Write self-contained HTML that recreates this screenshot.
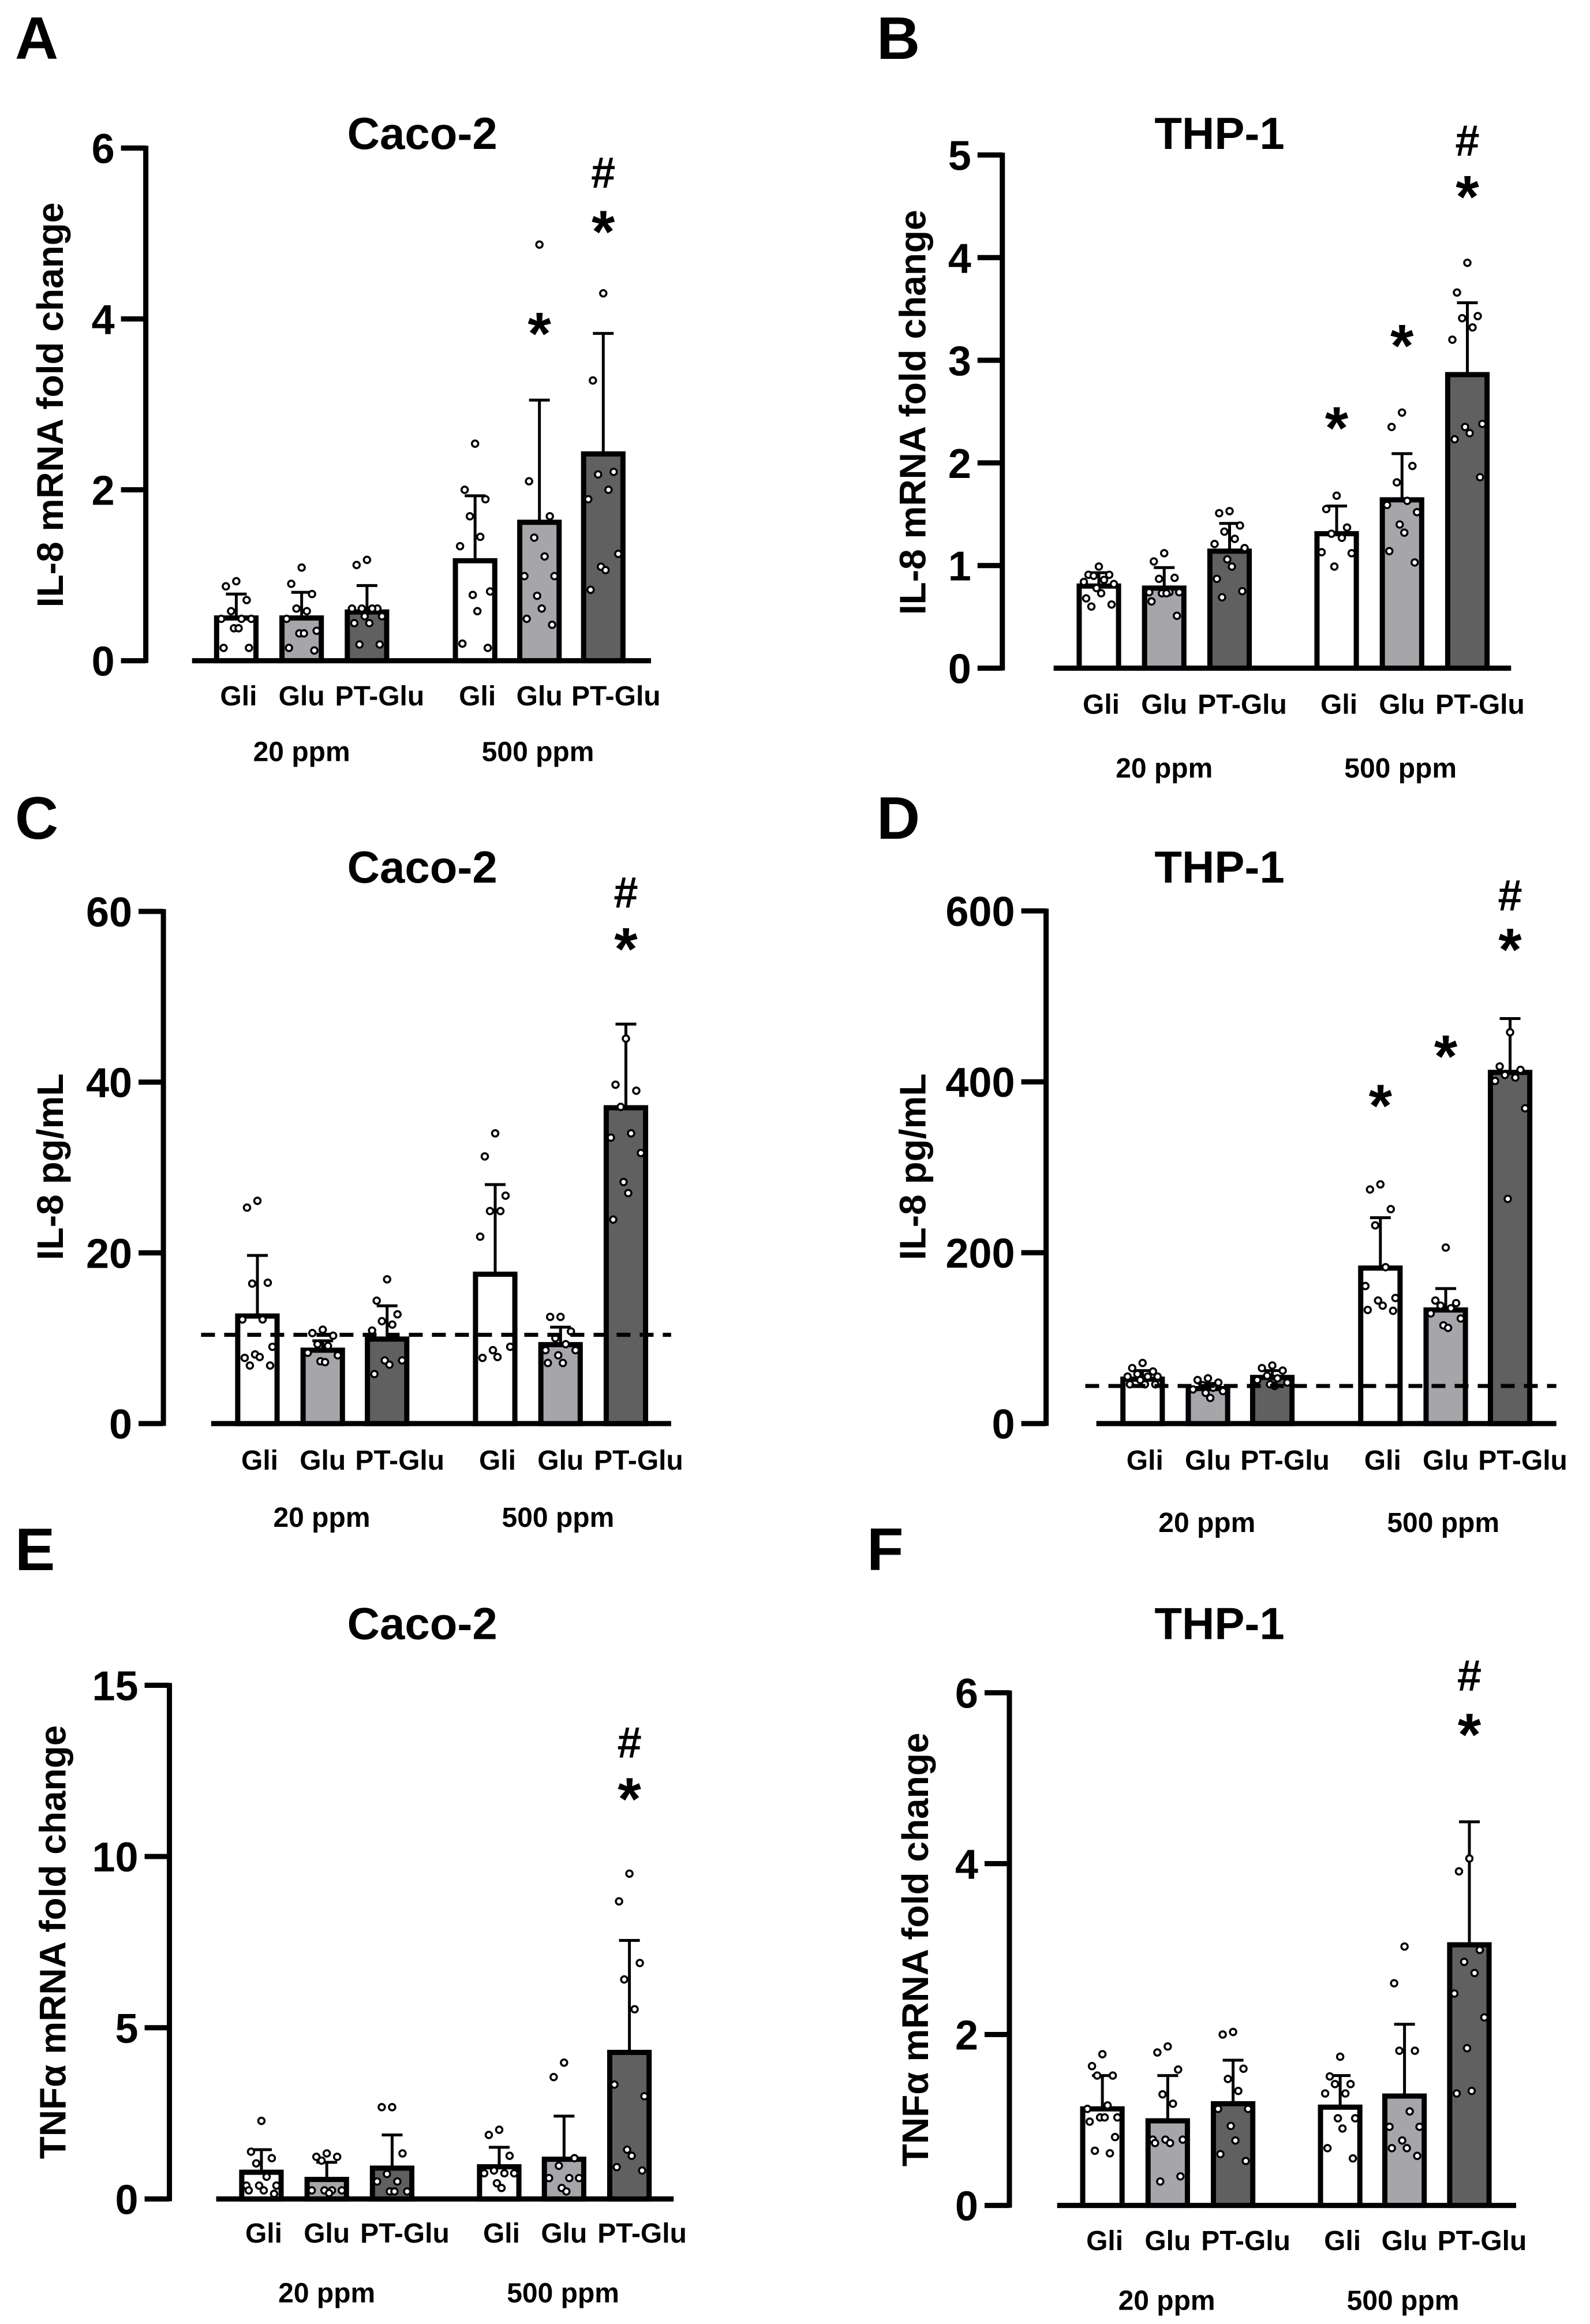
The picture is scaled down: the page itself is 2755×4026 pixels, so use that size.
<!DOCTYPE html>
<html><head><meta charset="utf-8"><style>
html,body{margin:0;padding:0;background:#fff;width:2755px;height:4026px;overflow:hidden}
svg{display:block}
text{font-family:"Liberation Sans",Arial,Helvetica,sans-serif;font-weight:bold}
</style></head><body>
<svg id="fig" width="2755" height="4026" viewBox="0 0 2755 4026" xmlns="http://www.w3.org/2000/svg" font-family="Liberation Sans, Arial, sans-serif" font-weight="bold"></svg>
<script>
// ---- data ----
const categories = ["Gli","Glu","PT-Glu","Gli","Glu","PT-Glu"];
const groupLabels = ["20 ppm","500 ppm"];
// Panel A: Caco-2 IL-8 mRNA
const meanA = [0.50,0.50,0.57,1.17,1.62,2.42];
const sdTopA = [0.78,0.80,0.88,1.93,3.05,3.83];
const ptsA = [[0.93,0.87,0.71,0.58,0.49,0.49,0.49,0.38,0.38,0.15,0.15],[1.09,0.9,0.78,0.61,0.58,0.49,0.35,0.32,0.32,0.15,0.12],[1.18,1.12,0.61,0.61,0.61,0.61,0.52,0.52,0.44,0.44,0.19,0.19],[2.54,2.0,1.89,1.69,1.45,1.34,0.81,0.77,0.58,0.2,0.15],[4.87,2.1,1.69,1.44,1.22,0.99,0.99,0.76,0.61,0.49,0.42],[4.3,3.28,2.21,2.18,2.0,1.89,1.25,1.1,1.06,0.83]];
const ticksA = [0,2,4,6];
// Panel B: THP-1 IL-8 mRNA
const meanB = [0.80,0.78,1.14,1.31,1.64,2.86];
const sdTopB = [0.93,0.98,1.41,1.58,2.09,3.56];
const ptsB = [[0.99,0.91,0.91,0.9,0.86,0.84,0.82,0.78,0.73,0.68,0.62,0.6],[1.12,1.04,0.88,0.87,0.74,0.74,0.74,0.73,0.73,0.65,0.51],[1.53,1.51,1.39,1.33,1.26,1.21,1.17,1.06,0.99,0.87,0.75,0.69],[1.68,1.55,1.37,1.31,1.27,1.13,1.12,0.99],[2.49,2.35,1.97,1.81,1.63,1.59,1.52,1.4,1.32,1.14,1.03],[3.95,3.66,3.43,3.41,3.32,3.2,2.38,2.35,2.29,2.23,1.86]];
const ticksB = [0,1,2,3,4,5];
// Panel C: Caco-2 IL-8 pg/mL
const meanC = [12.6,8.6,9.9,17.5,9.25,37.0];
const sdTopC = [19.7,9.7,13.8,28.0,11.3,46.8];
const ptsC = [[26.1,25.3,16.5,16.4,12.2,12.2,9.0,8.1,7.8,7.7,6.8,6.8],[11.0,10.6,10.3,9.3,9.1,8.3,8.0,7.3,7.2],[16.9,14.4,12.8,12.0,11.6,10.9,7.4,7.4,6.9,5.8],[34.0,31.3,26.7,24.9,24.9,21.9,9.0,8.6,7.8,7.7],[12.5,12.5,10.8,10.0,9.3,8.6,8.6,8.0,7.1,7.1],[45.1,39.7,39.0,37.1,34.0,33.5,31.7,28.3,27.0,23.9]];
const ticksC = [0,20,40,60];
const lodC = 10.4;
// Panel D: THP-1 IL-8 pg/mL
const meanD = [52,41,54,182,133,411];
const sdTopD = [62,47,62,241,158,474];
const ptsD = [[71,65,61,58,55,55,55,51,46,46,46],[53,51,48,45,42,40,38,36,30],[68,65,62,56,53,51,48,46,44],[280,274,251,232,183,161,147,144,138,133,132],[206,144,141,138,135,129,123,115,112],[458,418,414,408,405,401,369,263]];
const ticksD = [0,200,400,600];
const lodD = 44;
// Panel E: Caco-2 TNFa mRNA
const meanE = [0.78,0.57,0.90,0.94,1.16,4.28];
const sdTopE = [1.44,1.07,1.87,1.51,2.42,7.55];
const ptsE = [[2.28,1.38,1.19,1.04,0.65,0.39,0.39,0.39,0.25,0.25,0.15],[1.33,1.23,1.23,1.12,0.25,0.25,0.25,0.25,0.17],[2.68,2.68,1.33,0.73,0.51,0.51,0.22,0.22,0.22],[2.02,1.87,1.26,0.83,0.75,0.75,0.75,0.46,0.32],[3.98,3.56,1.19,0.97,0.61,0.61,0.61,0.32,0.22],[9.5,8.69,6.89,6.41,5.54,3.34,3.0,1.44,1.26,0.93,0.83]];
const ticksE = [0,5,10,15];
// Panel F: THP-1 TNFa mRNA
const meanF = [1.13,0.99,1.19,1.15,1.28,3.05];
const sdTopF = [1.52,1.52,1.70,1.52,2.12,4.49];
const ptsF = [[1.77,1.63,1.52,1.52,1.17,1.13,1.03,1.03,1.03,0.98,0.8,0.64,0.61],[1.86,1.79,1.59,1.3,1.19,0.77,0.77,0.77,0.73,0.73,0.34,0.28],[2.03,2.0,1.6,1.48,1.34,1.13,1.13,0.93,0.76,0.6,0.52],[1.74,1.51,1.42,1.42,1.31,1.31,1.02,1.02,0.9,0.67,0.55],[3.03,2.6,1.81,1.81,1.1,0.92,0.92,0.76,0.67,0.67,0.58],[4.06,3.91,2.99,2.85,2.72,2.48,2.2,1.84,1.34,1.31]];
const ticksF = [0,2,4,6];
// significance marks: [barIndex, symbol, value]
const sigA = [[4,"*",3.9],[5,"*",5.09],[5,"#",5.7]];
const sigB = [[3,"*",2.4],[4,"*",3.2],[5,"*",4.65],[5,"#",5.13]];
const sigC = [[5,"*",56.3],[5,"#",62.1]];
const sigD = [[3,"*",379],[4,"*",437],[5,"*",562],[5,"#",617]];
const sigE = [[5,"*",11.86],[5,"#",13.3]];
const sigF = [[5,"*",5.58],[5,"#",6.19]];

// ---- layout ----
const SX = 1.148, SY = 1.162;
const fills = ["#ffffff","#a6a6aa","#606060","#ffffff","#a6a6aa","#606060"];
const NS = "http://www.w3.org/2000/svg";
const svg = document.getElementById('fig');
const FONT = '"Liberation Sans", Arial, sans-serif';
function mk(tag, attrs, parent){const e=document.createElementNS(NS,tag);for(const k in attrs)e.setAttribute(k,attrs[k]);if(tag==='text'){e.setAttribute('font-family',FONT);e.setAttribute('font-weight','bold');}(parent||svg).appendChild(e);return e;}
const jit = [0,-18,18,-9,9,-26,26,-4,4,-22,22,-13,13];

const panels = [
 {id:"a",letter:"A",lx:26,ly:102,ox:0,oy:0,axisX:290,y0:1330,yTop:298,max:6,ticks:ticksA,base:[382,1295],bars:[470,600,730,945,1073,1200],title:"Caco-2",tx:840,ty:300,ytitle:"IL-8 mRNA fold change",ytx:100,yty:815,catY:1420,ppmY:1532,ppmX:[600,1070],mean:meanA,sd:sdTopA,pts:ptsA,sig:sigA},
 {id:"b",letter:"B",lx:1519,ly:102,ox:1377,oy:0,axisX:413,y0:1345,yTop:312,max:5,ticks:ticksB,base:[515,1425],bars:[605,735,865,1078,1208,1338],title:"THP-1",tx:845,ty:300,ytitle:"IL-8 mRNA fold change",ytx:235,yty:830,catY:1437,ppmY:1565,ppmX:[735,1205],mean:meanB,sd:sdTopB,pts:ptsB,sig:sigB},
 {id:"c",letter:"C",lx:26,ly:1453,ox:0,oy:1350,axisX:325,y0:1297,yTop:266,max:60,ticks:ticksC,base:[420,1335],bars:[512,642,770,985,1115,1245],title:"Caco-2",tx:840,ty:208,ytitle:"IL-8 pg/mL",ytx:100,yty:780,catY:1390,ppmY:1505,ppmX:[640,1110],mean:meanC,sd:sdTopC,pts:ptsC,sig:sigC,lod:lodC,lodX:[400,1335]},
 {id:"d",letter:"D",lx:1519,ly:1453,ox:1377,oy:1350,axisX:500,y0:1297,yTop:265,max:600,ticks:ticksD,base:[600,1515],bars:[692,822,950,1165,1295,1423],title:"THP-1",tx:845,ty:208,ytitle:"IL-8 pg/mL",ytx:235,yty:780,catY:1390,ppmY:1515,ppmX:[820,1290],mean:meanD,sd:sdTopD,pts:ptsD,sig:sigD,lod:lodD,lodX:[578,1515]},
 {id:"e",letter:"E",lx:26,ly:2720,ox:0,oy:2676,axisX:337,y0:1317,yTop:283,max:15,ticks:ticksE,base:[430,1340],bars:[520,650,780,993,1122,1252],title:"Caco-2",tx:840,ty:190,ytitle:"TNF\u03b1 mRNA fold change",ytx:105,yty:800,catY:1405,ppmY:1525,ppmX:[650,1120],mean:meanE,sd:sdTopE,pts:ptsE,sig:sigE},
 {id:"f",letter:"F",lx:1502,ly:2720,ox:1377,oy:2676,axisX:427,y0:1330,yTop:298,max:6,ticks:ticksF,base:[522,1435],bars:[612,742,872,1085,1213,1342],title:"THP-1",tx:845,ty:190,ytitle:"TNF\u03b1 mRNA fold change",ytx:240,yty:815,catY:1420,ppmY:1540,ppmX:[740,1210],mean:meanF,sd:sdTopF,pts:ptsF,sig:sigF}
];

panels.forEach(p=>{
  const X = z=>p.ox+z/SX, Y = z=>p.oy+z/SY;
  const yS = v=>Y(p.y0 - (p.y0-p.yTop)*v/p.max);
  const g = mk('g',{});
  
  
  const L = mk('text',{x:p.lx,y:p.ly,'font-size':104},g); L.textContent=p.letter;
   
  const T = mk('text',{x:X(p.tx),y:Y(p.ty),'font-size':78,'text-anchor':'middle'},g); T.textContent=p.title;
   
  const yt = mk('text',{x:0,y:0,'font-size':64,'text-anchor':'middle',transform:`translate(${X(p.ytx)+22},${Y(p.yty)}) rotate(-90)`},g); yt.textContent=p.ytitle;
   
  const ax = mk('line',{x1:X(p.axisX),x2:X(p.axisX),y1:yS(p.max)-4,y2:yS(0)+4,stroke:'#000','stroke-width':9},g);
   
  p.ticks.forEach(t=>{
    const tl = mk('line',{x1:X(p.axisX)-43,x2:X(p.axisX),y1:yS(t),y2:yS(t),stroke:'#000','stroke-width':9},g);
     
    const tt = mk('text',{x:X(p.axisX)-54,y:yS(t)+26,'font-size':72,'text-anchor':'end'},g); tt.textContent=t;
     
  });
  const bl = mk('line',{x1:X(p.base[0]),x2:X(p.base[1]),y1:yS(0),y2:yS(0),stroke:'#000','stroke-width':9},g);
   
  p.bars.forEach((bz,i)=>{
    const cx = X(bz), w = 84/SX - 5;
    const eb = mk('line',{x1:cx,x2:cx,y1:yS(p.sd[i]),y2:yS(p.mean[i]),stroke:'#000','stroke-width':5},g);
     
    const ec = mk('line',{x1:cx-18,x2:cx+18,y1:yS(p.sd[i]),y2:yS(p.sd[i]),stroke:'#000','stroke-width':5},g);
     
    const r = mk('rect',{x:cx-w/2,y:yS(p.mean[i]),width:w,height:yS(0)-yS(p.mean[i]),fill:fills[i],stroke:'#000','stroke-width':9},g);
    
    
    p.pts[i].forEach((v,j)=>{
      const c = mk('circle',{cx:cx+jit[j%jit.length],cy:yS(v),r:5.5,fill:'#fff',stroke:'#000','stroke-width':3.5},g);
       
    });
    const cl = mk('text',{x:cx+(i%3===2?22:(i%3===0?4:0)),y:Y(p.catY),'font-size':48,'text-anchor':'middle'},g); cl.textContent=categories[i];
     
  });
  p.ppmX.forEach((px,k)=>{
    const t = mk('text',{x:X(px),y:Y(p.ppmY),'font-size':48,'text-anchor':'middle'},g); t.textContent=groupLabels[k];
     
  });
  if(p.lod!==undefined){
    const d = mk('line',{x1:X(p.lodX[0]),x2:X(p.lodX[1]),y1:yS(p.lod),y2:yS(p.lod),stroke:'#000','stroke-width':7,'stroke-dasharray':'24 16'},g);
     
  }
  p.sig.forEach(s=>{
    const cx = X(p.bars[s[0]]);
    const t = mk('text',{x:cx,y:yS(s[2])+(s[1]==='*'?46:24),'font-size':s[1]==='*'?104:76,'text-anchor':'middle'},g); t.textContent=s[1];
    
    
  });
});
</script>
</body></html>
